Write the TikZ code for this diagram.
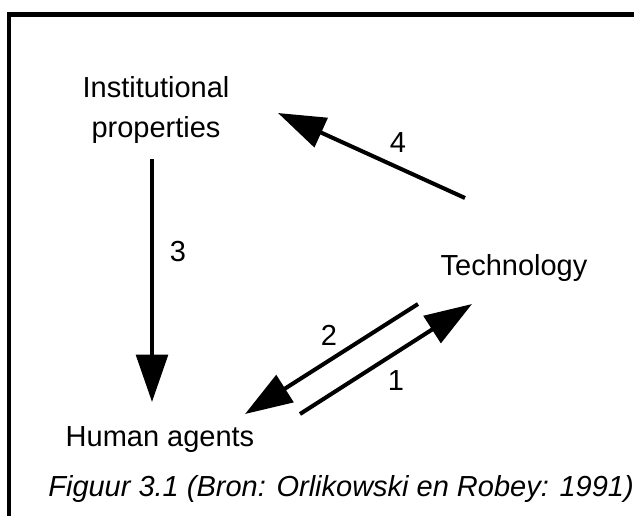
\documentclass[tikz,border=0pt]{standalone}
\usepackage{fontspec}
\setmainfont{Liberation Sans}
\usetikzlibrary{arrows.meta}
\tikzset{
  lbl/.style={font=\fontsize{16.5}{22.7}\selectfont,inner sep=0pt},
  flow/.style={line width=2.3pt,-{Triangle[length=27pt,width=18pt]}},
  plain/.style={line width=2.3pt}
}
\begin{document}
\begin{tikzpicture}[x=0.02cm,y=-0.02cm,line join=miter,line cap=butt]
  \useasboundingbox (0,0) rectangle (634,515);
  \clip (0,0) rectangle (634,515);
  % frame
  \draw[plain] (8.7,520) -- (8.7,14.5) -- (640,14.5);

  \node[lbl,align=center,anchor=base] (inst) at (156,137) {Institutional\\properties};
  \node[lbl,anchor=base] (tech) at (514,275) {Technology};
  \node[lbl,anchor=base] (human) at (160,446.7) {Human agents};
  \node[lbl,anchor=base west,font=\fontsize{16.5}{20}\selectfont\itshape] (caption) at (48,496.7)
    {Figuur 3.1 (Bron: Orlikowski en Robey: 1991)};

  \coordinate (A) at (465,198);
  \coordinate (B) at (278,113);
  \coordinate (C) at (152,159);
  \coordinate (D) at (152,402);
  \coordinate (E) at (418,304);
  \coordinate (F) at (245,414);
  \coordinate (G) at (300,414);
  \coordinate (H) at (472,304);

  \draw[flow] (A) -- (B);
  \draw[flow] (C) -- (D);
  \draw[flow] (E) -- (F);
  \draw[flow] (G) -- (H);

  \node[lbl] (n4) at (398,143) {4};
  \node[lbl] (n3) at (178,252) {3};
  \node[lbl] (n2) at (329,335) {2};
  \node[lbl] (n1) at (396,381) {1};
\end{tikzpicture}
\end{document}
